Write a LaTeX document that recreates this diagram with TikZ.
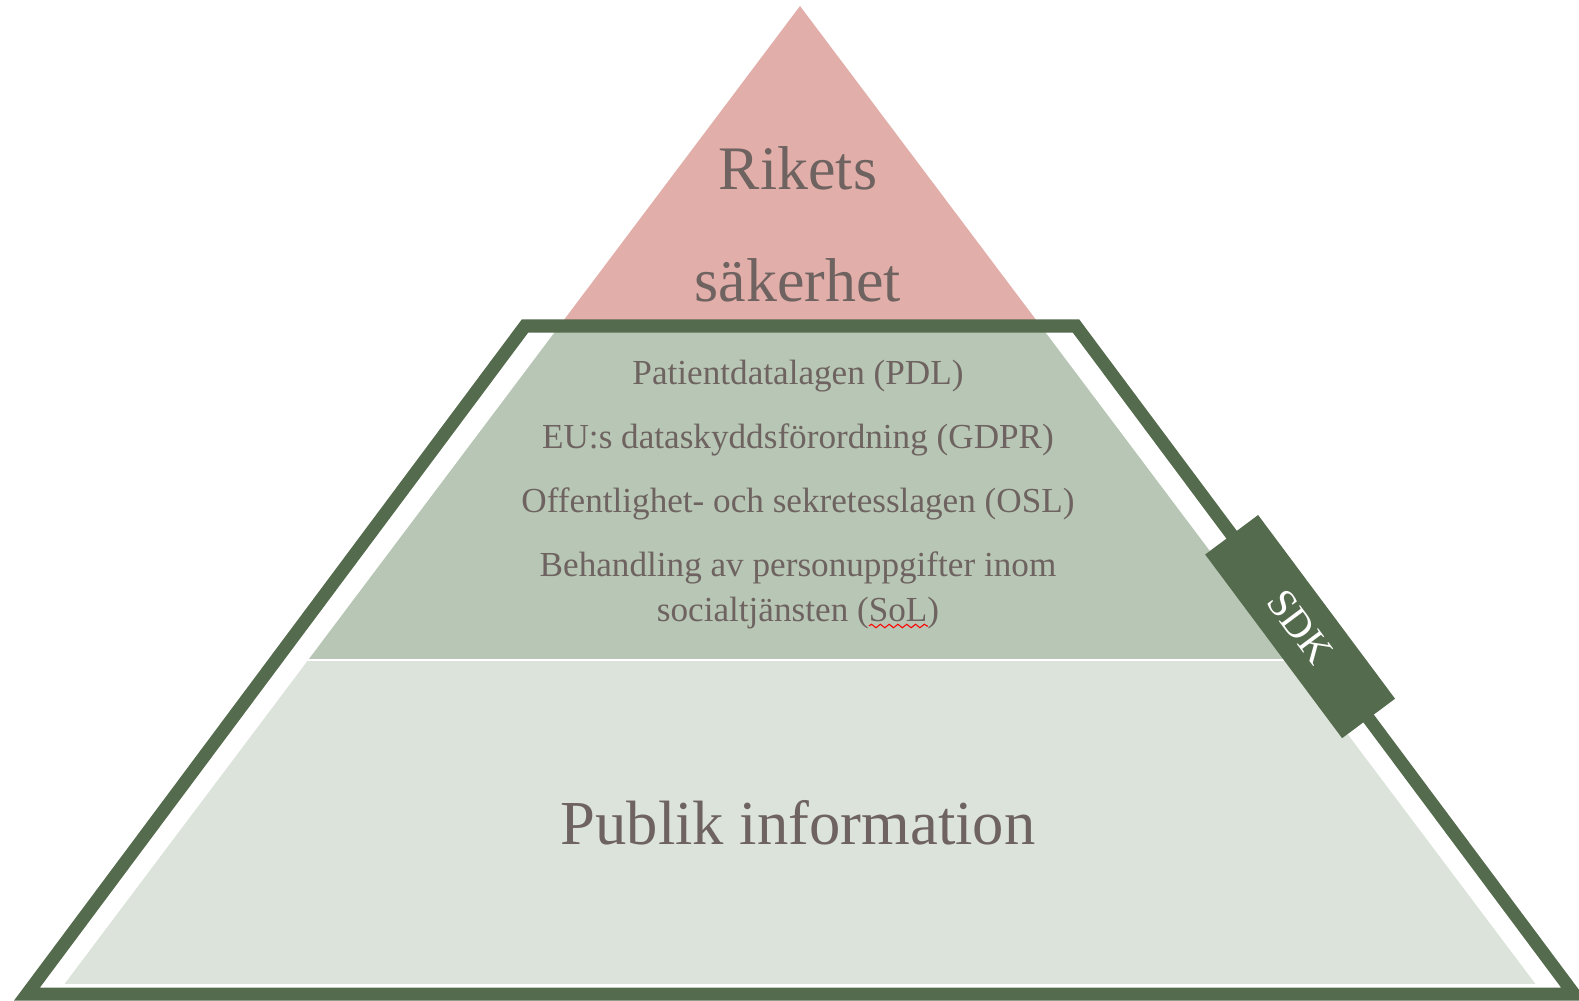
\documentclass[tikz,border=0pt]{standalone}
\usepackage{fontspec}
\setmainfont{Liberation Serif}
\usetikzlibrary{calc}
\usetikzlibrary{decorations.pathmorphing}

\definecolor{rosa}{HTML}{E2AEA9}
\definecolor{mellangron}{HTML}{B8C7B5}
\definecolor{ljusgron}{HTML}{DCE3DB}
\definecolor{morkgron}{HTML}{556B4E}
\definecolor{textgra}{HTML}{6E6360}

\begin{document}
\begin{tikzpicture}[x=0.01cm,y=-0.01cm,
  stor/.style={text=textgra,font=\fontsize{17.6}{20}\selectfont,inner sep=0,anchor=base},
  lag/.style={text=textgra,font=\fontsize{10}{12}\selectfont,inner sep=0,anchor=base},
  ram/.style={draw=morkgron,line width=3.7pt}]
\useasboundingbox (0,0) rectangle (1579,1000);
% pyramiden
\coordinate (topp) at (800,6);
\coordinate (vb) at (64.5,984);
\coordinate (hb) at (1535.5,984);
\begin{scope}
\clip (topp) -- (vb) -- (hb) -- cycle;
\fill[rosa] (0,0) rectangle (1579,326);
\fill[mellangron] (0,326) rectangle (1579,659);
\fill[ljusgron] (0,661) rectangle (1579,984);
\end{scope}
% ramen
\coordinate (rv) at (525,326);
\coordinate (rh) at (1076,326);
\coordinate (rhb) at (1574,994);
\coordinate (rvb) at (27,994);
\draw[ram] (rv) -- (rh) -- (rhb) -- (rvb) -- cycle;
\path (rh) -- (rhb) node[pos=0.45,sloped,fill=morkgron,text=white,inner sep=0,
  minimum width=2.29cm,minimum height=0.66cm,font=\fontsize{11.5}{13}\selectfont] (sdk) {SDK};
% texter
\node[stor] (rikets) at (798,189) {Rikets};
\node[stor] (saker) at (798,301) {säkerhet};
\node[lag] (pdl) at (798,384) {Patientdatalagen (PDL)};
\node[lag] (gdpr) at (798,448) {EU:s dataskyddsförordning (GDPR)};
\node[lag] (osl) at (798,512) {Offentlighet- och sekretesslagen (OSL)};
\node[lag] (beh) at (798,576) {Behandling av personuppgifter inom};
\node[lag] (soc) at (798,621) {socialtjänsten (SoL)};
\draw[red,line width=0.3pt,decorate,decoration={snake,amplitude=0.5pt,segment length=2.5pt}]
  ($(soc.base east)+(-71,5)$) -- ++(59,0);
\node[stor,font=\fontsize{17.8}{20}\selectfont] (publik) at (798,844) {Publik information};
\end{tikzpicture}
\end{document}
